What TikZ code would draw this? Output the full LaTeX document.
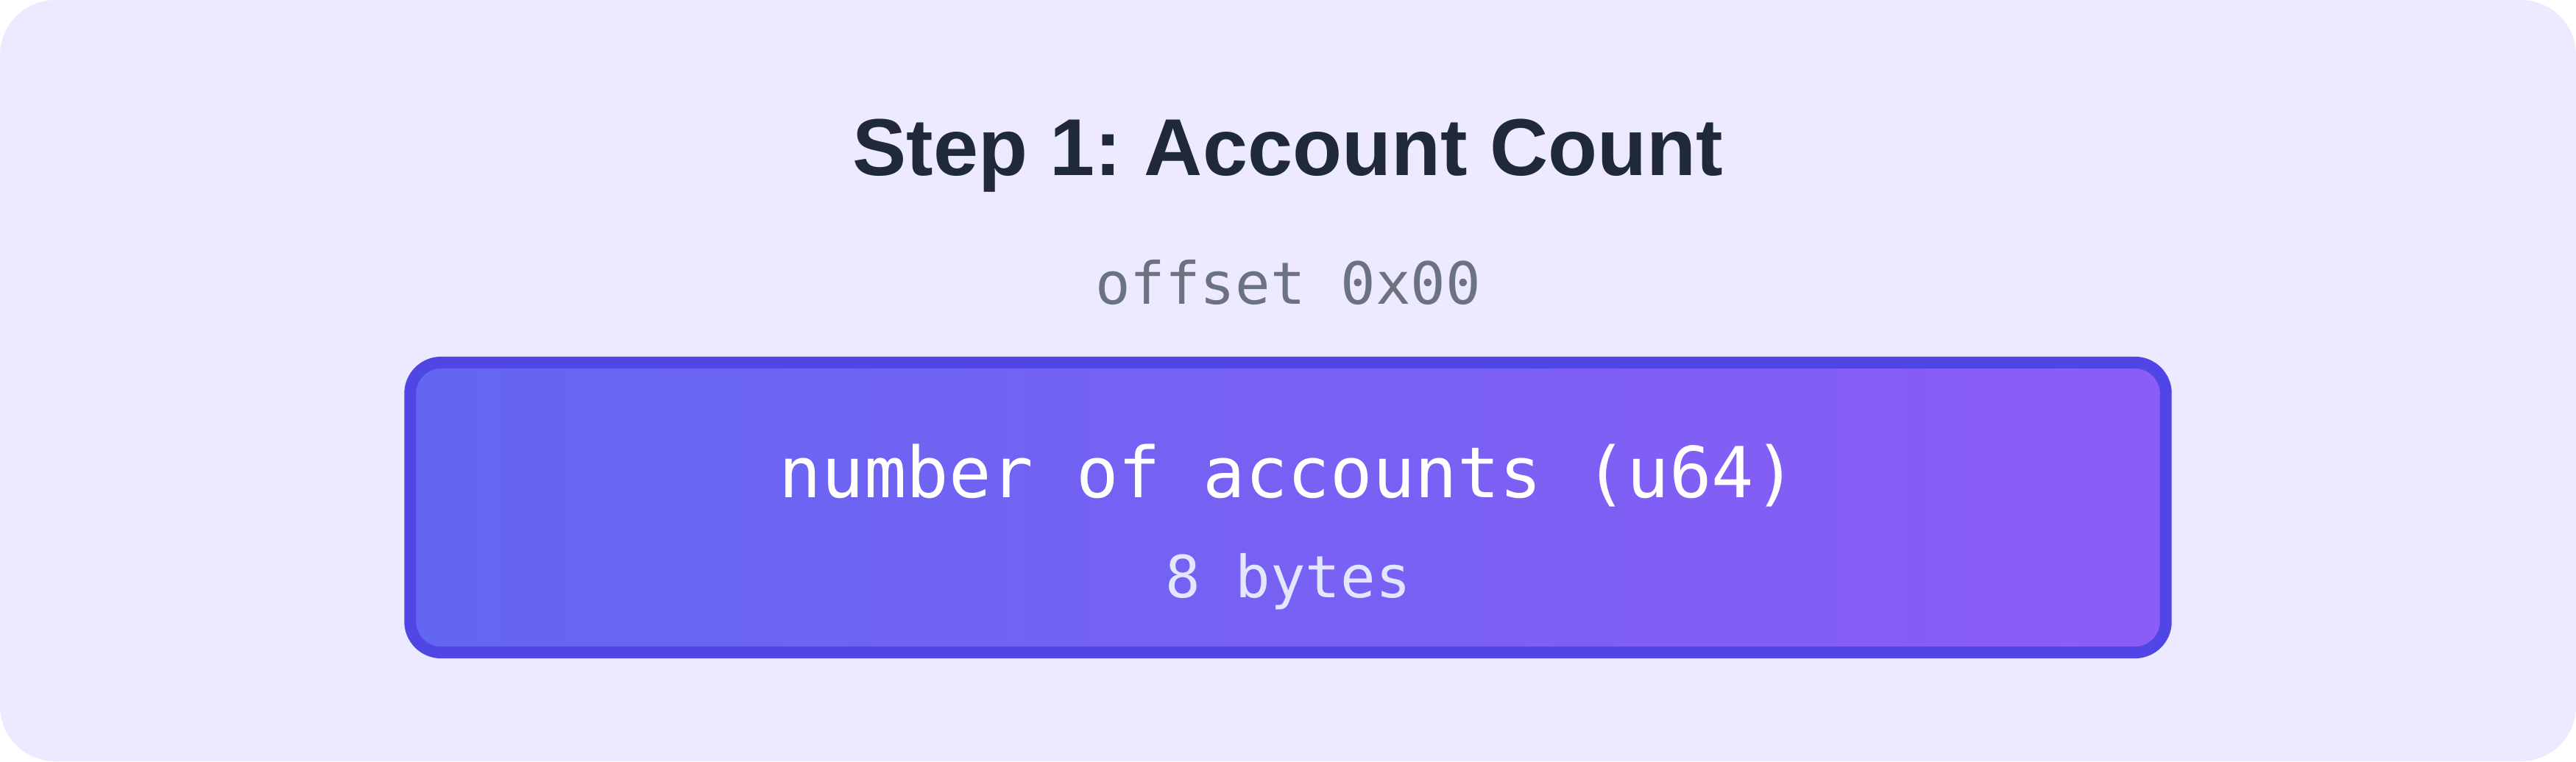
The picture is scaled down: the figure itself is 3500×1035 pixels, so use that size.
\documentclass[tikz,border=0pt]{standalone}
\usepackage{fontspec}
\setmainfont{Liberation Sans}
\newfontfamily\codefont{DejaVu Sans Mono}
\usepackage{tikz}
\usetikzlibrary{positioning}
\usepackage{xcolor}
\frenchspacing

\definecolor{panelbg}{HTML}{EDE9FE}
\definecolor{titleink}{HTML}{1F2937}
\definecolor{offsetink}{HTML}{6B7280}
\definecolor{fieldleft}{HTML}{6366F1}
\definecolor{fieldright}{HTML}{8B5CF6}
\definecolor{fieldedge}{HTML}{4F46E5}
\definecolor{sizeink}{HTML}{E0E7FF}

\tikzset{
    heading/.style={anchor=base, text=titleink, font=\fontsize{31.2}{37}\selectfont\bfseries},
    offsetlabel/.style={anchor=base, text=offsetink, font=\codefont\fontsize{22.5}{26}\selectfont},
    fieldbox/.style={draw=fieldedge, line width=0.16cm, rounded corners=0.42cm,
        left color=fieldleft, right color=fieldright,
        minimum width=23.84cm, minimum height=3.94cm, inner sep=0pt},
    fieldname/.style={anchor=base, text=white, font=\codefont\fontsize{27.2}{32}\selectfont},
    fieldsize/.style={anchor=base, text=sizeink, font=\codefont\fontsize{22.5}{26}\selectfont}
}

\begin{document}
\begin{tikzpicture}[x=0.01cm, y=-0.01cm]
        \useasboundingbox (0,0) rectangle (3500,1035);
        \fill[panelbg, rounded corners=0.75cm] (0,0) rectangle (3500,1035);

        \node[heading] (title) at (1750,238) {Step 1: Account Count};
        \node[offsetlabel] (offset) at (1750,413) {offset 0x00};

        \node[fieldbox] (field) at (1750,690) {};
        \node[fieldname] (fieldname) at (1750,676) {number of accounts (u64)};
        \node[fieldsize] (fieldsize) at (1750,812) {8 bytes};
    \end{tikzpicture}
\end{document}
